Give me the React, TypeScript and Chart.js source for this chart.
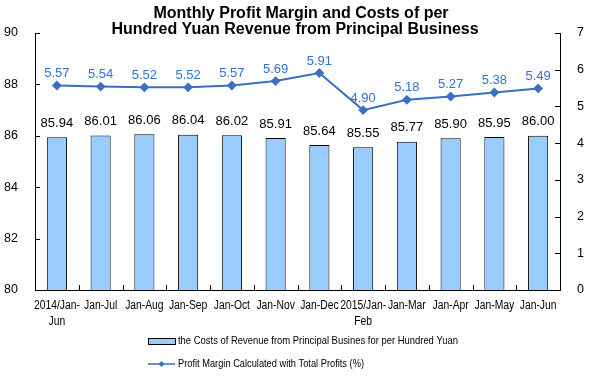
import React, { useEffect, useRef } from 'react';
import { Chart, registerables } from 'chart.js';

Chart.register(...registerables);

const categories: (string | string[])[] = [
  ['2014/Jan-', 'Jun'], 'Jan-Jul', 'Jan-Aug', 'Jan-Sep', 'Jan-Oct', 'Jan-Nov',
  'Jan-Dec', ['2015/Jan-', 'Feb'], 'Jan-Mar', 'Jan-Apr', 'Jan-May', 'Jan-Jun',
];
const costs = [85.94, 86.01, 86.06, 86.04, 86.02, 85.91, 85.64, 85.55, 85.77, 85.9, 85.95, 86.0];
const margins = [5.57, 5.54, 5.52, 5.52, 5.57, 5.69, 5.91, 4.9, 5.18, 5.27, 5.38, 5.49];
const titleLines = ['Monthly Profit Margin and Costs of per', 'Hundred Yuan Revenue from Principal Business'];
const costLabel = 'the Costs of Revenue from Principal Busines for per Hundred Yuan';
const marginLabel = 'Profit Margin Calculated with Total Profits (%)';

const FONT = '"Liberation Sans", Arial, sans-serif';
const BAR_FILL = '#99ccff';
const LINE_COLOR = '#3a6fc2';
const LINE_LABEL = '#2f72d4';

function narrowText(ctx: CanvasRenderingContext2D, text: string, x: number, y: number, squeeze: number) {
  const w = ctx.measureText(text).width;
  ctx.fillText(text, x, y, w * squeeze);
}

const decorPlugin = {
  id: 'decor',
  afterDatasetsDraw(chart: any) {
    const ctx = chart.ctx;
    const area = chart.chartArea;
    ctx.save();
    // inward ticks
    ctx.strokeStyle = '#000';
    ctx.lineWidth = 1;
    const y = chart.scales.y;
    const yR = chart.scales.yR;
    const x = chart.scales.x;
    y.ticks.forEach((t: any) => {
      const p = Math.round(y.getPixelForValue(t.value)) + 0.5;
      ctx.beginPath();
      ctx.moveTo(area.left, p);
      ctx.lineTo(area.left + 5, p);
      ctx.stroke();
    });
    yR.ticks.forEach((t: any) => {
      const p = Math.round(yR.getPixelForValue(t.value)) + 0.5;
      ctx.beginPath();
      ctx.moveTo(area.right, p);
      ctx.lineTo(area.right - 5, p);
      ctx.stroke();
    });
    const step = x.getPixelForValue(1) - x.getPixelForValue(0);
    for (let i = 0; i <= categories.length; i++) {
      const p = Math.round(x.getPixelForValue(i) - step / 2) + 0.5;
      ctx.beginPath();
      ctx.moveTo(p, area.bottom);
      ctx.lineTo(p, area.bottom - 5);
      ctx.stroke();
    }

    // x category labels (condensed)
    ctx.fillStyle = '#000';
    ctx.font = `12px ${FONT}`;
    ctx.textAlign = 'center';
    ctx.textBaseline = 'middle';
    categories.forEach((c, i) => {
      const lines = Array.isArray(c) ? c : [c];
      const px = x.getPixelForValue(i);
      lines.forEach((ln, k) => {
        narrowText(ctx, ln, px, area.bottom + 16 + k * 16, 0.86);
      });
    });

    // data labels
    ctx.font = `13px ${FONT}`;
    const barMeta = chart.getDatasetMeta(0);
    barMeta.data.forEach((el: any, i: number) => {
      ctx.fillStyle = '#000';
      ctx.fillText(costs[i].toFixed(2), el.x, el.y - 14);
    });
    const lineMeta = chart.getDatasetMeta(1);
    lineMeta.data.forEach((el: any, i: number) => {
      ctx.fillStyle = LINE_LABEL;
      ctx.fillText(margins[i].toFixed(2), el.x, el.y - 12);
    });

    // title
    ctx.fillStyle = '#000';
    ctx.font = `bold 16px ${FONT}`;
    const cx = chart.width / 2;
    ctx.fillText(titleLines[0], cx + 3, 14);
    ctx.fillText(titleLines[1], cx - 3, 30);

    // legend
    const lx = 148;
    const ly1 = 341;
    const ly2 = 364;
    ctx.fillStyle = BAR_FILL;
    ctx.fillRect(lx, ly1 - 3, 27, 6);
    ctx.strokeStyle = '#000';
    ctx.strokeRect(lx + 0.5, ly1 - 3 + 0.5, 27, 6);
    ctx.strokeStyle = LINE_COLOR;
    ctx.lineWidth = 1.5;
    ctx.beginPath();
    ctx.moveTo(lx, ly2);
    ctx.lineTo(lx + 27, ly2);
    ctx.stroke();
    ctx.fillStyle = LINE_COLOR;
    ctx.beginPath();
    ctx.moveTo(lx + 13.5, ly2 - 3);
    ctx.lineTo(lx + 16.5, ly2);
    ctx.lineTo(lx + 13.5, ly2 + 3);
    ctx.lineTo(lx + 10.5, ly2);
    ctx.closePath();
    ctx.fill();
    ctx.fillStyle = '#000';
    ctx.font = `11.5px ${FONT}`;
    ctx.textAlign = 'left';
    ctx.fillText(costLabel, lx + 30, ly1, 280);
    ctx.fillText(marginLabel, lx + 30, ly2, 186);
    ctx.restore();
  },
};

export default function App() {
  const canvasRef = useRef<HTMLCanvasElement | null>(null);

  useEffect(() => {
    document.body.style.margin = '0';
    const canvas = canvasRef.current;
    if (!canvas) return;
    const chart = new Chart(canvas, {
      type: 'bar',
      data: {
        labels: categories as any,
        datasets: [
          {
            type: 'bar',
            label: costLabel,
            data: costs,
            backgroundColor: BAR_FILL,
            borderColor: '#000',
            borderWidth: 1,
            barPercentage: 0.46,
            categoryPercentage: 1,
            yAxisID: 'y',
            order: 2,
          },
          {
            type: 'line',
            label: marginLabel,
            data: margins,
            borderColor: LINE_COLOR,
            backgroundColor: LINE_COLOR,
            borderWidth: 2,
            pointStyle: 'rectRot',
            pointRadius: 3.5,
            pointBackgroundColor: LINE_COLOR,
            pointBorderColor: LINE_COLOR,
            tension: 0,
            yAxisID: 'yR',
            order: 1,
          },
        ] as any,
      },
      options: {
        animation: false,
        responsive: false,
        layout: { padding: { top: 33, bottom: 50, left: 0, right: 0 } },
        plugins: {
          legend: { display: false },
          title: { display: false },
          tooltip: { enabled: false },
        },
        scales: {
          x: {
            grid: { display: false },
            border: { display: true, color: '#000', width: 1 },
            ticks: { display: false },
            afterFit: (s: any) => { s.height = 40; },
          },
          y: {
            position: 'left',
            min: 80,
            max: 90,
            grid: { display: false },
            border: { display: true, color: '#000', width: 1 },
            ticks: {
              stepSize: 2,
              color: '#000',
              font: { family: FONT, size: 12.5 },
              padding: 9,
            },
            afterFit: (s: any) => { s.width = 35; },
          },
          yR: {
            position: 'right',
            min: 0,
            max: 7,
            grid: { display: false },
            border: { display: true, color: '#000', width: 1 },
            ticks: {
              stepSize: 1,
              color: '#000',
              font: { family: FONT, size: 12.5 },
              padding: 9,
            },
            afterFit: (s: any) => { s.width = 36; },
          },
        },
      } as any,
      plugins: [decorPlugin],
    });
    return () => chart.destroy();
  }, []);

  return (
    <div style={{ width: 596, height: 380 }}>
      <canvas ref={canvasRef} width={596} height={380} style={{ display: 'block' }} />
    </div>
  );
}
